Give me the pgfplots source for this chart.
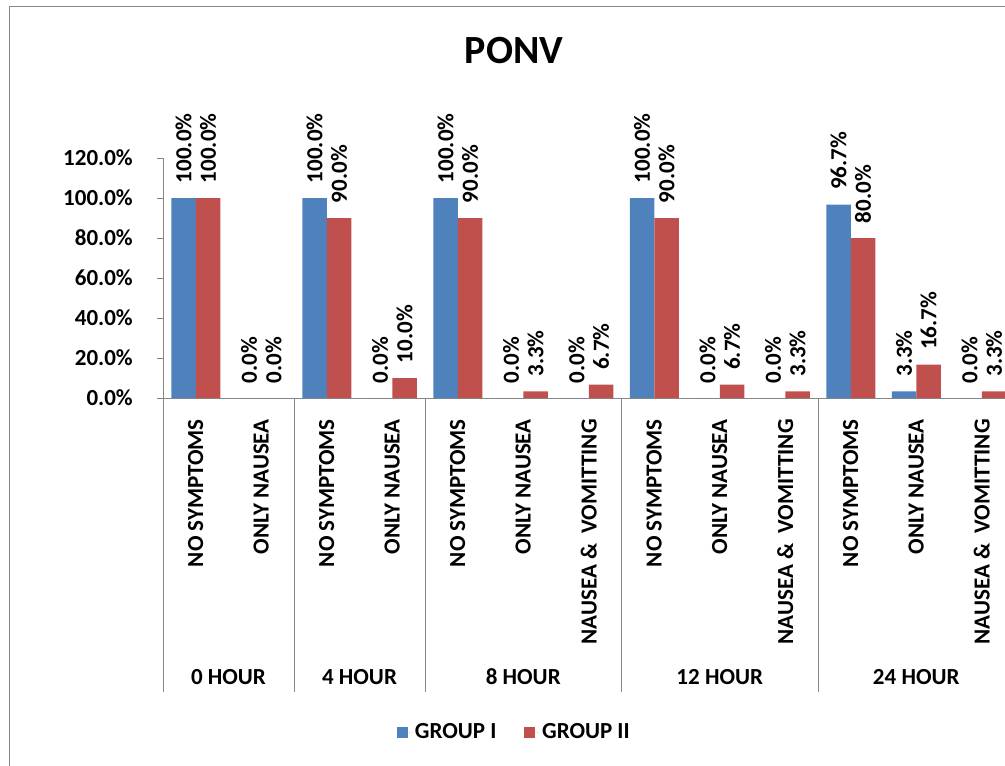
\documentclass[border=0pt]{standalone}
\usepackage{pgfplots}
\pgfplotsset{compat=1.18}
\usepackage{fontspec}
\setmainfont{Carlito}
\definecolor{grpone}{HTML}{4F81BD}
\definecolor{grptwo}{HTML}{C0504D}
\definecolor{axisgray}{HTML}{868686}
\newcommand\lbl{\fontsize{17.25}{20}\selectfont\bfseries}
\pgfplotsset{/pgf/number format/assume math mode=true}

% Percentage of patients per symptom class at each time point
\pgfplotstableread{
x  g1    g2
0  100   100
1  0     0
2  100   90
3  0     10
4  100   90
5  0     3.3
6  0     6.7
7  100   90
8  0     6.7
9  0     3.3
10 96.7  80
11 3.3   16.7
12 0     3.3
}\ponvdata

\begin{document}
\begin{tikzpicture}
\begin{axis}[
  at={(122.25pt,-298.5pt)}, anchor=south west,
  scale only axis, width=638.625pt, height=180pt,
  ybar=0pt, bar width=18.375pt,
  xmin=-0.5, xmax=12.5, ymin=0, ymax=120,
  enlargelimits=false, clip=false,
  axis x line*=bottom, axis y line*=left,
  axis line style={axisgray, line width=0.75pt},
  xtick={0,...,12},
  xticklabels={NO SYMPTOMS, ONLY NAUSEA, NO SYMPTOMS, ONLY NAUSEA,
    NO SYMPTOMS, ONLY NAUSEA, {NAUSEA \&\ \ VOMITTING},
    NO SYMPTOMS, ONLY NAUSEA, {NAUSEA \&\ \ VOMITTING},
    NO SYMPTOMS, ONLY NAUSEA, {NAUSEA \&\ \ VOMITTING}},
  x tick style={draw=none},
  xticklabel style={rotate=90, anchor=east, inner xsep=11.25pt, inner ysep=0pt, font=\lbl},
  ytick={0,20,...,120},
  y tick style={axisgray, line width=0.75pt},
  tick align=outside, major tick length=4.5pt,
  yticklabel={\pgfmathprintnumber[fixed,fixed zerofill,precision=1]{\tick}\%},
  yticklabel style={anchor=east, inner sep=0pt, xshift=-18pt, font=\lbl},
  nodes near coords={\pgfmathprintnumber[fixed,fixed zerofill,precision=1]{\pgfplotspointmeta}\%},
  every node near coord/.append style={rotate=90, anchor=west, inner xsep=11pt, inner ysep=0pt, font=\lbl, text=black},
  legend style={at={(0.2748,-1.3917)}, anchor=west, draw=none, inner sep=0pt,
    legend columns=2, font=\lbl,
    /tikz/every even column/.append style={column sep=19pt}},
]
\addplot[fill=grpone, draw=none,
  legend image code/.code={\path (0pt,0pt) -- (11.25pt,0pt);
    \fill[grpone] (0pt,-4.125pt) rectangle (8.25pt,4.125pt);}]
  table[x=x, y=g1] {\ponvdata};
\addlegendentry{GROUP I}
\addplot[fill=grptwo, draw=none,
  legend image code/.code={\path (0pt,0pt) -- (11.25pt,0pt);
    \fill[grptwo] (0pt,-4.125pt) rectangle (8.25pt,4.125pt);}]
  table[x=x, y=g2] {\ponvdata};
\addlegendentry{GROUP II}

% separators of the time-point level of the category axis
\draw[axisgray, line width=0.75pt] (axis cs:-0.5,0) -- ([yshift=-220.5pt]axis cs:-0.5,0);
\draw[axisgray, line width=0.75pt] (axis cs:1.5,0) -- ([yshift=-220.5pt]axis cs:1.5,0);
\draw[axisgray, line width=0.75pt] (axis cs:3.5,0) -- ([yshift=-220.5pt]axis cs:3.5,0);
\draw[axisgray, line width=0.75pt] (axis cs:6.5,0) -- ([yshift=-220.5pt]axis cs:6.5,0);
\draw[axisgray, line width=0.75pt] (axis cs:9.5,0) -- ([yshift=-220.5pt]axis cs:9.5,0);

% time-point labels
\node[font=\lbl] at ([yshift=-209.25pt]axis cs:0.5,0) {0 HOUR};
\node[font=\lbl] at ([yshift=-209.25pt]axis cs:2.5,0) {4 HOUR};
\node[font=\lbl] at ([yshift=-209.25pt]axis cs:5,0) {8 HOUR};
\node[font=\lbl] at ([yshift=-209.25pt]axis cs:8,0) {12 HOUR};
\node[font=\lbl] at ([yshift=-209.25pt]axis cs:11,0) {24 HOUR};
\end{axis}

\node[font=\fontsize{30}{36}\selectfont\bfseries] at (385.5pt,-38.25pt) {PONV};
\draw[axisgray, line width=0.75pt] (6.75pt,-4.9pt) rectangle (800pt,-620pt);

\pgfresetboundingbox
\useasboundingbox (0pt,0pt) rectangle (753.75pt,-574.5pt);
\end{tikzpicture}
\end{document}
